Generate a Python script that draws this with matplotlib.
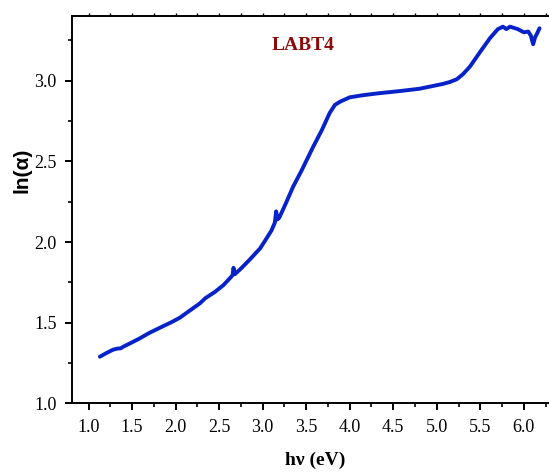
import matplotlib
matplotlib.use("Agg")
import matplotlib.pyplot as plt
from matplotlib.ticker import MultipleLocator

# photon energy (eV) and ln(alpha)
hv = [1.13, 1.20, 1.28, 1.33, 1.37, 1.40, 1.50, 1.59, 1.70, 1.86, 1.95,
      2.05, 2.15, 2.28, 2.34, 2.45, 2.55, 2.64, 2.655, 2.665, 2.68, 2.75,
      2.85, 2.97, 3.03, 3.10, 3.14, 3.155, 3.17, 3.19, 3.25, 3.35, 3.45,
      3.58, 3.68, 3.77, 3.83, 3.89, 4.00, 4.15, 4.33, 4.58, 4.80, 5.07,
      5.15, 5.23, 5.30, 5.38, 5.50, 5.61, 5.70, 5.76, 5.80, 5.84, 5.93,
      6.00, 6.05, 6.08, 6.107, 6.13, 6.15, 6.18]
ln_alpha = [1.289, 1.31, 1.332, 1.339, 1.341, 1.351, 1.378, 1.403, 1.437,
            1.479, 1.502, 1.531, 1.57, 1.62, 1.651, 1.69, 1.733, 1.785,
            1.795, 1.840, 1.800, 1.835, 1.89, 1.96, 2.01, 2.07, 2.12, 2.19,
            2.14, 2.15, 2.22, 2.343, 2.446, 2.59, 2.694, 2.80, 2.85, 2.87,
            2.897, 2.91, 2.922, 2.936, 2.95, 2.98, 2.992, 3.009, 3.04,
            3.087, 3.18, 3.263, 3.319, 3.335, 3.32, 3.335, 3.32, 3.30,
            3.305, 3.28, 3.226, 3.27, 3.29, 3.325]

sample_name = "LABT4"

fig = plt.figure(figsize=(5.49, 4.72), dpi=100)
ax = fig.add_axes([72 / 549, 68.7 / 472, 482.3 / 549, 387.6 / 472])

ax.plot(hv, ln_alpha, color="#0622c8", lw=2.8, solid_capstyle="round")

ax.set_xlim(0.81, 6.35)
ax.set_ylim(1.0, 3.403)
ax.xaxis.set_major_locator(MultipleLocator(0.5))
ax.xaxis.set_minor_locator(MultipleLocator(0.25))
ax.yaxis.set_major_locator(MultipleLocator(0.5))
ax.yaxis.set_minor_locator(MultipleLocator(0.25))

for s in ax.spines.values():
    s.set_linewidth(1.4)

ax.tick_params(which="major", direction="out", length=5, width=1.4,
               labelsize=13, pad=6)
ax.tick_params(which="minor", direction="out", length=3, width=1.2)
for lab in ax.get_xticklabels() + ax.get_yticklabels():
    lab.set_fontfamily("Liberation Serif")

# small ticks along the top spine
top = ax.secondary_xaxis("top")
top.xaxis.set_major_locator(MultipleLocator(0.25))
top.tick_params(direction="out", length=2.5, width=1.0, labeltop=False)
top.spines["top"].set_visible(False)

ax.set_xlabel("h\u03bd (eV)", fontfamily="Liberation Serif",
              fontweight="bold", fontsize=14)
ax.set_ylabel("ln(\u03b1)", fontfamily="Liberation Sans",
              fontweight="bold", fontsize=15)
ax.xaxis.set_label_coords(0.504, -0.124)
ax.yaxis.set_label_coords(-0.083, 0.6)

ax.text(3.46, 3.221, sample_name, color="#8b0a0a", fontsize=14,
        fontweight="bold", fontfamily="Liberation Serif",
        ha="center", va="center")

fig.savefig("out.png", dpi=100)
